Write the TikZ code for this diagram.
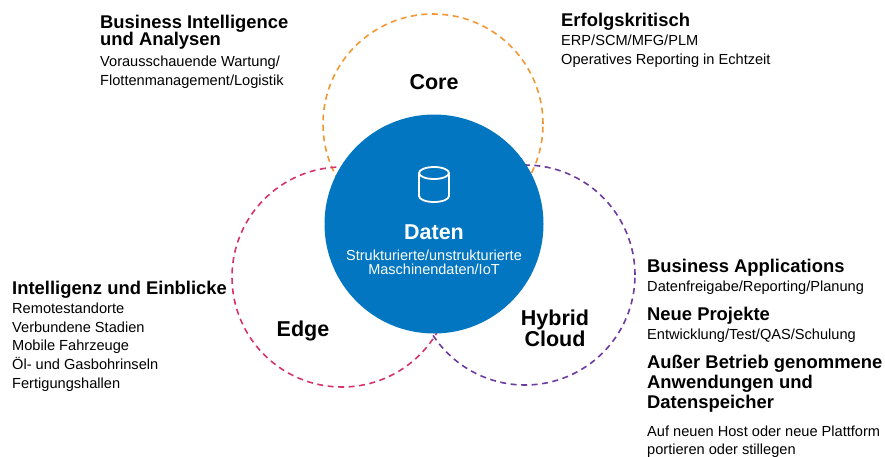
\documentclass[tikz,border=0pt]{standalone}
\usepackage{fontspec}
\setmainfont{Liberation Sans}
\usepackage{xcolor}
\usetikzlibrary{calc}

\definecolor{coreorange}{RGB}{242,152,50}
\definecolor{edgepink}{RGB}{214,50,110}
\definecolor{cloudpurple}{RGB}{108,58,160}
\definecolor{datablue}{RGB}{2,118,192}

\newcommand\blockhead[1]{{\fontsize{18.4}{19}\selectfont\bfseries #1}}

\begin{document}
\begin{tikzpicture}[x=1pt, y=-1pt,
		every node/.style={inner sep=0pt},
		ring/.style={dash pattern=on 6pt off 4.5pt, line width=1.6pt},
		textblock/.style={anchor=north west, align=left, font=\fontsize{14.6}{19}\selectfont},
		circlelabel/.style={align=center, font=\fontsize{21.5}{21.7}\selectfont\bfseries}]
		\useasboundingbox (0,0) rectangle (885,456);
		
		\coordinate (core) at (433,124);
		\coordinate (edge) at (342,277);
		\coordinate (cloud) at (525,275);
		\coordinate (data) at (434,224);
		
		\draw [ring, coreorange] (core) circle [radius=110pt];
		\draw [ring, edgepink] (edge) circle [radius=110pt];
		\draw [ring, cloudpurple] (cloud) circle [radius=110pt];
		
		\fill [datablue] (data) circle [radius=109.5pt];
		
		\draw [white, line width=1.8pt] (434,173) ellipse [x radius=15pt, y radius=6pt];
		\draw [white, line width=1.8pt] (419,173) -- (419,196) arc [start angle=180, end angle=360, x radius=15pt, y radius=6pt] -- (449,173);
		
		\node (daten) [anchor=base, white, font=\fontsize{21.5}{21.7}\selectfont\bfseries] at (434,239) {Daten};
		\node (datentext) [anchor=north, white, align=center, font=\fontsize{14.5}{14.3}\selectfont] at (434,249.6) {Strukturierte/unstrukturierte\\Maschinendaten/IoT};
		
		\node (corelabel) [circlelabel, anchor=base] at (434,89) {Core};
		\node (edgelabel) [circlelabel, anchor=base] at (303,336.7) {Edge};
		\node (cloudlabel) [circlelabel, anchor=north] at (555,309.5) {Hybrid\\Cloud};
		
		\node (bi) [textblock] at (100,14.8) {\blockhead{Business Intelligence}\\[-2pt]\blockhead{und Analysen}\\[2pt]Vorausschauende Wartung/\\Flottenmanagement/Logistik};
		\node (ek) [textblock] at (561,13.3) {\blockhead{Erfolgskritisch}\\ERP/SCM/MFG/PLM\\Operatives Reporting in Echtzeit};
		\node (ie) [textblock, font=\fontsize{14.6}{18.7}\selectfont] at (12,281.1) {\blockhead{Intelligenz und Einblicke}\\Remotestandorte\\Verbundene Stadien\\Mobile Fahrzeuge\\Öl- und Gasbohrinseln\\Fertigungshallen};
		\node (ba) [textblock] at (647,258.5) {\blockhead{Business Applications}\\Datenfreigabe/Reporting/Planung};
		\node (np) [textblock] at (647,306.8) {\blockhead{Neue Projekte}\\Entwicklung/Test/QAS/Schulung};
		\node (ab) [textblock, font=\fontsize{14.6}{20.3}\selectfont] at (647,354.5) {\blockhead{Außer Betrieb genommene}\\\blockhead{Anwendungen und}\\\blockhead{Datenspeicher}};
		\node (ah) [textblock, font=\fontsize{14.6}{17.3}\selectfont] at (647,426.2) {Auf neuen Host oder neue Plattform\\portieren oder stillegen};
		
	\end{tikzpicture}
\end{document}
